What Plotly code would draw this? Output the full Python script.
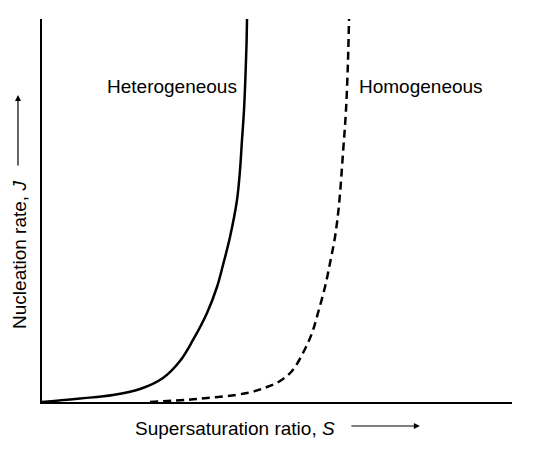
import plotly.graph_objects as go

# Heterogeneous nucleation curve (solid)
het_s = [0.0, 8.09, 15.11, 20.85, 25.74, 29.36, 32.13, 35.11, 37.23, 38.51, 40.00,
         41.49, 42.13, 42.55, 42.98, 43.30, 43.51, 43.62]
het_j = [0.0, 0.91, 1.83, 3.39, 6.27, 10.70, 16.19, 23.24, 30.03, 35.77, 43.08,
         52.74, 60.57, 68.41, 76.24, 85.38, 93.21, 100.0]

# Homogeneous nucleation curve (dashed)
hom_s = [22.98, 32.98, 43.62, 47.87, 50.64, 53.19, 55.53, 57.45, 58.72, 60.21, 61.28,
         62.34, 63.19, 64.04, 64.68, 65.11, 65.32]
hom_j = [0.0, 0.78, 2.35, 3.92, 5.48, 8.09, 12.79, 18.02, 23.24, 30.03, 36.29,
         43.08, 51.44, 65.01, 76.24, 89.30, 100.0]

FONT = "Liberation Sans, Arial, sans-serif"
FS = 19

fig = go.Figure()
fig.add_trace(go.Scatter(x=het_s, y=het_j, mode="lines",
                         line=dict(color="black", width=2.5, shape="spline", smoothing=1.0),
                         name="Heterogeneous", showlegend=False, hoverinfo="skip"))
fig.add_trace(go.Scatter(x=hom_s, y=hom_j, mode="lines",
                         line=dict(color="black", width=2.5, dash="8px,5px", shape="spline", smoothing=1.0),
                         name="Homogeneous", showlegend=False, hoverinfo="skip"))

fig.update_xaxes(range=[0, 100], showgrid=False, zeroline=False, showticklabels=False, ticks="",
                 showline=True, linecolor="black", linewidth=1.5, fixedrange=True)
fig.update_yaxes(range=[0, 100], showgrid=False, zeroline=False, showticklabels=False, ticks="",
                 showline=True, linecolor="black", linewidth=1.5, fixedrange=True)

ann = []
ann.append(dict(x=0.2766, y=0.825, xref="paper", yref="paper", text="Heterogeneous", showarrow=False,
                font=dict(family=FONT, size=FS, color="black"), xanchor="center", yanchor="middle"))
ann.append(dict(x=0.806, y=0.825, xref="paper", yref="paper", text="Homogeneous", showarrow=False,
                font=dict(family=FONT, size=FS, color="black"), xanchor="center", yanchor="middle"))
ann.append(dict(x=0.4106, y=-0.0679, xref="paper", yref="paper", text="Supersaturation ratio, <i>S</i>",
                showarrow=False, font=dict(family=FONT, size=FS, color="black"),
                xanchor="center", yanchor="middle"))
ann.append(dict(x=0.804, y=-0.0627, xref="paper", yref="paper", text="", showarrow=True, ax=-70, ay=0,
                arrowhead=2, arrowsize=1, arrowwidth=1.2, arrowcolor="black"))
ann.append(dict(x=-0.0468, y=0.384, xref="paper", yref="paper", text="Nucleation rate, <i>J</i>",
                showarrow=False, textangle=-90, font=dict(family=FONT, size=FS, color="black"),
                xanchor="center", yanchor="middle"))
ann.append(dict(x=-0.0511, y=0.8016, xref="paper", yref="paper", text="", showarrow=True, ax=0, ay=72,
                arrowhead=2, arrowsize=1, arrowwidth=1.2, arrowcolor="black"))

fig.update_layout(width=538, height=451, margin=dict(l=42, r=26, t=19, b=49),
                  plot_bgcolor="white", paper_bgcolor="white", annotations=ann)

fig.write_html("out.html", config={"displayModeBar": False},
               post_script="document.body.style.margin='0';")
